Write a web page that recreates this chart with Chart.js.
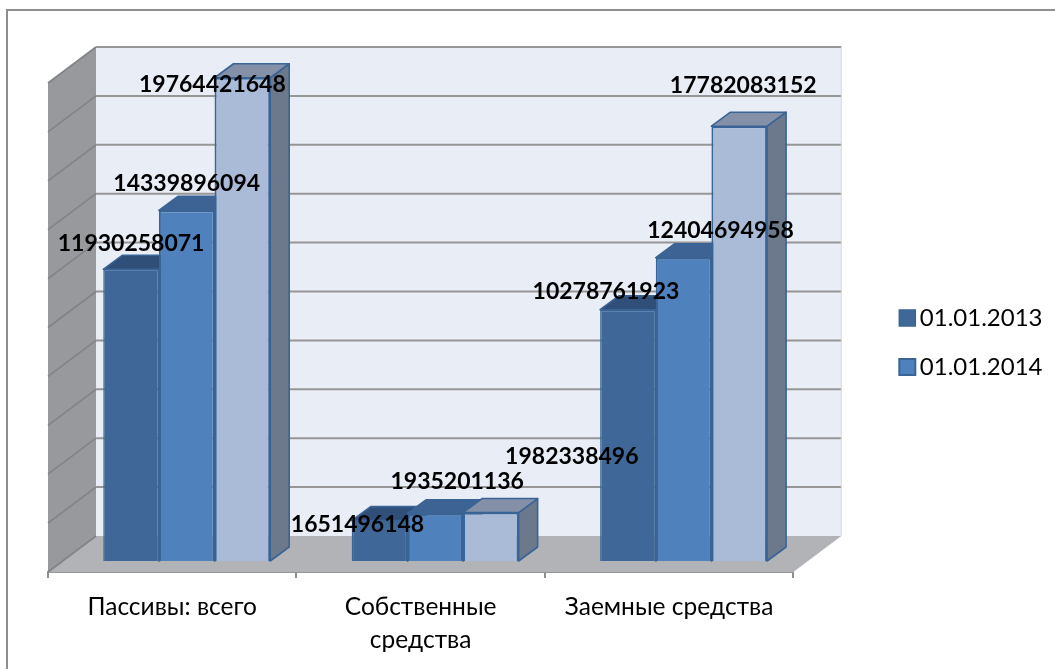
<!DOCTYPE html>
<html><head><meta charset="utf-8">
<style>html,body{margin:0;padding:0;background:#fff}canvas{display:block}#w{width:1055px;height:669px;position:relative}</style>
<script src="https://cdn.jsdelivr.net/npm/chart.js@4"></script>
</head><body><div id="w"><canvas id="c"></canvas></div>
<script>
const categories = [['Пассивы: всего'], ['Собственные', 'средства'], ['Заемные средства']];
const seriesNames = ['01.01.2013', '01.01.2014', '01.01.2015'];
const values2013 = [11930258071, 1651496148, 10278761923];
const values2014 = [14339896094, 1935201136, 12404694958];
const values2015 = [19764421648, 1982338496, 17782083152];
const axisMax = 20000000000;
const axisStep = 2000000000;

const frontColors = ['#3f6898', '#4f81bd', '#aabbd8'];
const topColors = ['#2f4f78', '#3c6393', '#8490a8'];
const sideColors = ['#2f4f78', '#3c6393', '#6c788c'];
const edge = '#3a6496';
const FONT = "Lato, 'Noto Sans', sans-serif";
const labelNudge = [
  [[0,-26],[-22,4],[-22,-18]],
  [[0,-27],[22,-32],[37,-27]],
  [[-30,7],[81,-56],[4,-41]]
];
const wallD = {x:48, y:36}, barD = {x:19, y:14}, barShift = {x:14.5, y:11};

function poly(ctx, pts, fill, stroke, lw){
  ctx.beginPath();
  pts.forEach((p,i)=> i?ctx.lineTo(p[0],p[1]):ctx.moveTo(p[0],p[1]));
  ctx.closePath();
  if(fill){ctx.fillStyle=fill;ctx.fill();}
  if(stroke){ctx.strokeStyle=stroke;ctx.lineWidth=lw||1;ctx.stroke();}
}
const scene = {
  id:'scene',
  afterLayout(chart){
    const l = chart.legend, a = chart.chartArea;
    const w = l.right-l.left, h = l.bottom-l.top;
    l.left = a.right+88.5; l.right = l.left+w;
    l.top -= 33.5; l.bottom = l.top+h;
  },
  beforeDraw(chart){
    const ctx = chart.ctx;
    ctx.save();
    ctx.strokeStyle='#8e8e8e';ctx.lineWidth=2;
    ctx.beginPath();ctx.moveTo(7,669);ctx.lineTo(7,10);ctx.lineTo(1055,10);ctx.stroke();
    ctx.restore();
  },
  beforeDatasetsDraw(chart){
    const ctx = chart.ctx, a = chart.chartArea, y = chart.scales.y;
    const L=a.left,R=a.right,T=a.top,B=a.bottom,dx=wallD.x,dy=wallD.y;
    ctx.save();
    poly(ctx,[[L+dx,T-dy],[R+dx,T-dy],[R+dx,B-dy],[L+dx,B-dy]],'#e8edf6');
    poly(ctx,[[L,T],[L+dx,T-dy],[L+dx,B-dy],[L,B]],'#98999c');
    poly(ctx,[[L,B],[R,B],[R+dx,B-dy],[L+dx,B-dy]],'#b1b3b6');
    y.ticks.forEach(t=>{
      const py=y.getPixelForValue(t.value);
      ctx.lineWidth=1.6;ctx.strokeStyle='#828386';
      ctx.beginPath();ctx.moveTo(L,py);ctx.lineTo(L+dx,py-dy);ctx.stroke();
      if(t.value>0){
        ctx.lineWidth=2;ctx.strokeStyle='#969696';
        ctx.beginPath();ctx.moveTo(L+dx,py-dy);ctx.lineTo(R+dx,py-dy);ctx.stroke();
      }
    });
    ctx.strokeStyle='#d5d9e2';ctx.lineWidth=1;
    ctx.beginPath();ctx.moveTo(R+dx,T-dy);ctx.lineTo(R+dx,B-dy);ctx.stroke();
    ctx.restore();
    ctx.save();
    ctx.translate(barShift.x,-barShift.y);
    ctx.lineJoin='round';
    const n=categories.length;
    for(let i=0;i<n;i++){
      chart.data.datasets.forEach((ds,d)=>{
        const b=chart.getDatasetMeta(d).data[i].getProps(['x','y','width','base'],true);
        const l=b.x-b.width/2,r=b.x+b.width/2;
        poly(ctx,[[r,b.y],[r+barD.x,b.y-barD.y],[r+barD.x,b.base-barD.y],[r,b.base]],sideColors[d],edge,1.6);
        poly(ctx,[[l,b.y],[l+barD.x,b.y-barD.y],[r+barD.x,b.y-barD.y],[r,b.y]],topColors[d],edge,1.6);
      });
    }
  },
  afterDatasetsDraw(chart){
    const ctx=chart.ctx;
    ctx.restore();
    ctx.save();
    ctx.font="bold 23px "+FONT;ctx.fillStyle='#000';ctx.textAlign='center';ctx.textBaseline='middle';
    chart.data.datasets.forEach((ds,d)=>{
      chart.getDatasetMeta(d).data.forEach((el,i)=>{
        const b=el.getProps(['x','y'],true),nu=labelNudge[d][i];
        ctx.fillText(String(ds.data[i]),b.x+barShift.x+nu[0],b.y-barShift.y+nu[1]);
      });
    });
    ctx.restore();
  }
};
Chart.defaults.font.family=FONT;
new Chart(document.getElementById('c'),{
  type:'bar',
  data:{labels:categories,datasets:seriesNames.map((name,d)=>({
    label:name,
    data:[values2013,values2014,values2015][d],
    backgroundColor:frontColors[d],borderColor:edge,borderWidth:d===0?1.5:2,
    barPercentage:1,categoryPercentage:0.672,clip:false
  }))},
  plugins:[scene],
  options:{
    responsive:true,maintainAspectRatio:false,animation:false,
    layout:{padding:{left:48,top:83,right:91,bottom:0}},
    plugins:{
      tooltip:{enabled:false},
      legend:{position:'right',labels:{
        filter:(it)=>it.datasetIndex<2,
        usePointStyle:true,pointStyle:'rect',
        boxWidth:1,boxHeight:16,padding:25,color:'#000',font:{size:24,family:FONT}
      }}
    },
    scales:{
      x:{
        afterFit:s=>{s.height=97},
        grid:{drawOnChartArea:false,color:'#8e8e8e',tickLength:6,lineWidth:2},
        border:{color:'#969696',width:2},
        ticks:{color:'#000',font:{size:24.5,family:FONT,lineHeight:1.34},autoSkip:false,maxRotation:0,minRotation:0,padding:13}
      },
      y:{
        min:0,max:axisMax,
        afterFit:s=>{s.width=0},
        grid:{display:false},border:{display:false},
        ticks:{display:false,stepSize:axisStep}
      }
    }
  }
});
</script></body></html>
